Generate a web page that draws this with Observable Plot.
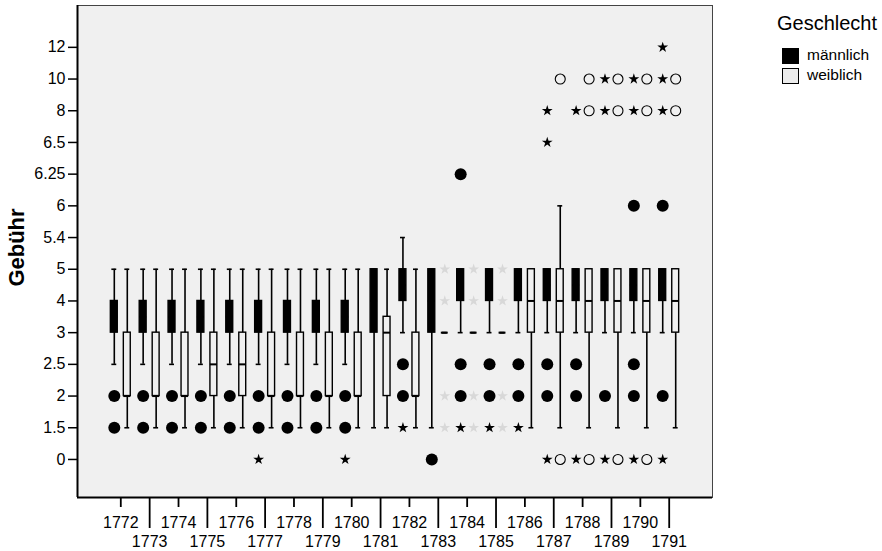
<!DOCTYPE html>
<html><head><meta charset="utf-8">
<script src="https://cdn.jsdelivr.net/npm/d3@7"></script>
<script src="https://cdn.jsdelivr.net/npm/@observablehq/plot@0.6"></script>
<style>
body{margin:0;background:#fff;font-family:"Liberation Sans",Arial,sans-serif;color:#000;}
#wrap{position:relative;width:882px;height:551px;overflow:hidden;}
.lg{position:absolute;white-space:nowrap;}
.sw{position:absolute;width:15px;height:14px;border:1px solid #000;}
</style></head>
<body>
<div id="wrap">
  <div id="chart"></div>
  <div class="lg" id="lgTitle" style="left:777px;top:12px;font-size:20px;">Geschlecht</div>
  <div class="sw" style="left:782px;top:48px;background:#000;"></div>
  <div class="lg" style="left:807px;top:47px;font-size:15.5px;line-height:16px;">männlich</div>
  <div class="sw" style="left:782px;top:68px;background:#ececec;"></div>
  <div class="lg" style="left:807px;top:67px;font-size:15.5px;line-height:16px;">weiblich</div>
</div>
<script>
// ---- data ----
const years = [1772,1773,1774,1775,1776,1777,1778,1779,1780,1781,1782,1783,1784,1785,1786,1787,1788,1789,1790,1791];
// ordinal levels of the y axis (Gebühr); box statistics are given as level positions
const levels = ["0","1.5","2","2.5","3","4","5","5.4","6","6.25","6.5","8","10","12"];

const maleLow  = [3,3,3,3,3,3,3,3,3, 1,4,1, 4,4,4,4,4,4,4,4];
const maleQ1   = [4,4,4,4,4,4,4,4,4, 4,5,4, 5,5,5,5,5,5,5,5];
const maleMed  = [4.5,4.5,4.5,4.5,4.5,4.5,4.5,4.5,4.5, 5,5.5,5, 5.5,5.5,5.5,5.5,5.5,5.5,5.5,5.5];
const maleQ3   = [5,5,5,5,5,5,5,5,5, 6,6,6, 6,6,6,6,6,6,6,6];
const maleHigh = [6,6,6,6,6,6,6,6,6, 6,7,6, 6,6,6,6,6,6,6,6];

const femaleLow  = [1,1,1,1,1,1,1,1,1, 1,1,4, 4,4,1,1,1,1,1,1];
const femaleQ1   = [2,2,2,2,2,2,2,2,2, 2,2,4, 4,4,4,4,4,4,4,4];
const femaleMed  = [2,2,2,3,3,2,2,2,2, 4,2,4, 4,4,5,5,5,5,5,5];
const femaleQ3   = [4,4,4,4,4,4,4,4,4, 4.5,4,4, 4,4,6,6,6,6,6,6];
const femaleHigh = [6,6,6,6,6,6,6,6,6, 6,6,4, 4,4,6,8,6,6,6,6];

// outliers (circles) and extremes (stars): [year, level position]
const maleOutliers = [
  [1772,2],[1772,1],[1773,2],[1773,1],[1774,2],[1774,1],[1775,2],[1775,1],[1776,2],[1776,1],
  [1777,2],[1777,1],[1778,2],[1778,1],[1779,2],[1779,1],[1780,2],[1780,1],
  [1782,3],[1782,2],[1783,0],[1784,9],[1784,3],[1784,2],[1785,3],[1785,2],[1786,3],[1786,2],
  [1787,3],[1787,2],[1788,3],[1788,2],[1789,2],[1790,8],[1790,3],[1790,2],[1791,8],[1791,2]
];
const maleExtremes = [
  [1777,0],[1780,0],[1782,1],[1784,1],[1785,1],[1786,1],
  [1787,0],[1787,10],[1787,11],[1788,0],[1788,11],[1789,0],[1789,11],[1789,12],
  [1790,0],[1790,11],[1790,12],[1791,0],[1791,11],[1791,12],[1791,13]
];
const femaleOutliers = [
  [1787,0],[1787,12],[1788,0],[1788,11],[1788,12],[1789,0],[1789,11],[1789,12],
  [1790,0],[1790,11],[1790,12],[1791,11],[1791,12]
];
const femaleExtremes = [
  [1783,1],[1783,2],[1783,5],[1783,6],[1784,1],[1784,2],[1784,5],[1784,6],[1785,1],[1785,2],[1785,5],[1785,6]
];

// ---- build ----
const OFF = 0.225, HW = 0.12, CAP = 0.085;
const boxes = [];
years.forEach((y, i) => {
  boxes.push({sex:"m", cx:y-OFF, low:maleLow[i], q1:maleQ1[i], med:maleMed[i], q3:maleQ3[i], high:maleHigh[i]});
  boxes.push({sex:"w", cx:y+OFF, low:femaleLow[i], q1:femaleQ1[i], med:femaleMed[i], q3:femaleQ3[i], high:femaleHigh[i]});
});
const pts = (arr, off) => arr.map(([y, v]) => ({x: y + off, v}));
const xDom = [1770.5, 1792.5], yDom = [-1.2, 14.32];
const evenYears = years.filter(y => y % 2 === 0), oddYears = years.filter(y => y % 2 === 1);
const FS = 16;

const chart = Plot.plot({
  width: 882, height: 551,
  marginLeft: 77, marginRight: 170, marginTop: 5, marginBottom: 54,
  style: {fontFamily: '"Liberation Sans", Arial, sans-serif', fontSize: FS + "px", color: "#000", background: "#fff"},
  x: {type: "linear", domain: xDom},
  y: {type: "linear", domain: yDom},
  marks: [
    Plot.frame({fill: "#f0f0f0", stroke: "#444", strokeWidth: 1}),
    Plot.ruleX(boxes, {x: "cx", y1: "low", y2: "high", stroke: "#000", strokeWidth: 1.6}),
    Plot.ruleY(boxes, {y: "low", x1: d => d.cx - CAP, x2: d => d.cx + CAP, stroke: "#000", strokeWidth: 1.6}),
    Plot.ruleY(boxes, {y: "high", x1: d => d.cx - CAP, x2: d => d.cx + CAP, stroke: "#000", strokeWidth: 1.6}),
    Plot.rect(boxes, {x1: d => d.cx - HW, x2: d => d.cx + HW, y1: "q1", y2: "q3",
      fill: d => d.sex === "m" ? "#000" : "#f0f0f0", stroke: "#000", strokeWidth: 1.4}),
    Plot.ruleY(boxes, {y: "med", x1: d => d.cx - HW, x2: d => d.cx + HW, stroke: "#000", strokeWidth: 2}),
    Plot.dot(pts(maleOutliers, -OFF), {x: "x", y: "v", r: 6, fill: "#000", stroke: "none"}),
    Plot.dot(pts(femaleOutliers, OFF), {x: "x", y: "v", r: 5, fill: "#f0f0f0", stroke: "#000", strokeWidth: 1.1}),
    Plot.dot(pts(maleExtremes, -OFF), {x: "x", y: "v", r: 3.4, symbol: "star", fill: "#000", stroke: "none"}),
    Plot.dot(pts(femaleExtremes, OFF), {x: "x", y: "v", r: 3.4, symbol: "star", fill: "#d8d8d8", stroke: "none"}),
    Plot.ruleX([xDom[0]], {stroke: "#000", strokeWidth: 2}),
    Plot.ruleY([yDom[0]], {stroke: "#000", strokeWidth: 2}),
    Plot.axisY(d3.range(levels.length), {tickSize: 9, tickPadding: 3, tickFormat: i => levels[i], fontSize: FS, strokeWidth: 1.5, label: null}),
    Plot.axisX(evenYears, {tickSize: 10, tickPadding: 9, tickFormat: d => String(d), fontSize: FS, strokeWidth: 1.8, label: null}),
    Plot.axisX(oddYears, {tickSize: 31, tickPadding: 7.5, tickFormat: d => String(d), fontSize: FS, strokeWidth: 1.8, label: null}),
    Plot.text(["Gebühr"], {frameAnchor: "left", dx: -61, dy: -4, rotate: -90, textAnchor: "middle", fontSize: 22, fontWeight: "bold"})
  ]
});
document.getElementById("chart").appendChild(chart);
</script>
</body></html>
